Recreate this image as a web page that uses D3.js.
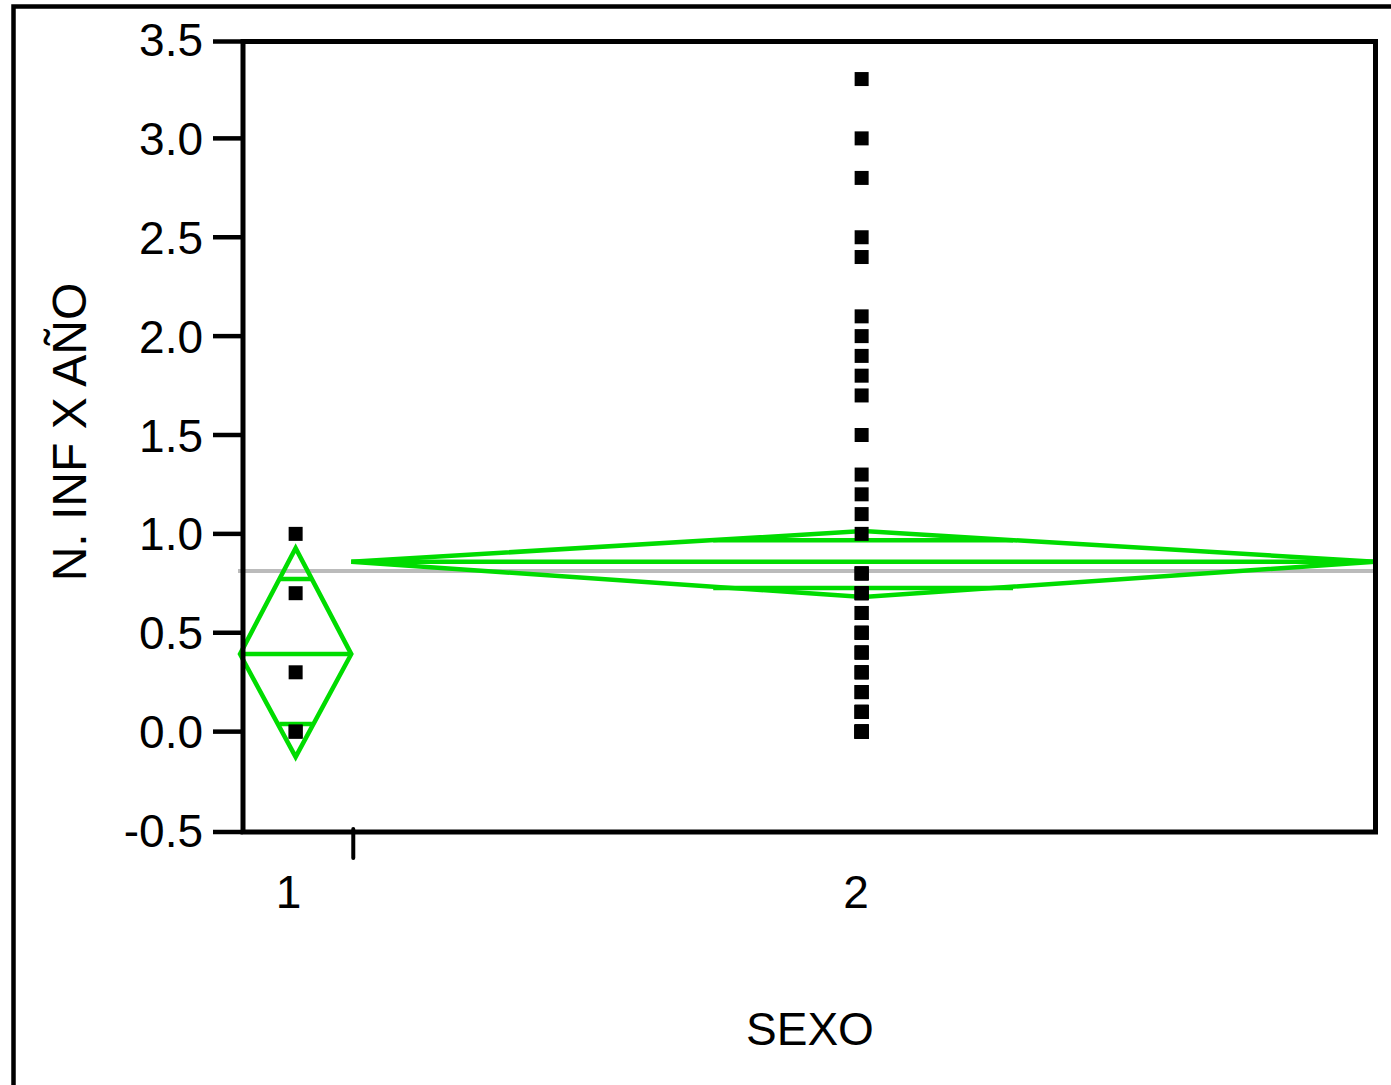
<!DOCTYPE html>
<html>
<head>
<meta charset="utf-8">
<script src="https://cdn.jsdelivr.net/npm/d3@7"></script>
<style>
  html, body { margin: 0; padding: 0; background: #fff; }
  svg text { font-family: "Liberation Sans", Arial, sans-serif; fill: #000; }
</style>
</head>
<body>
<div id="chart"></div>
<script>

// categories and raw values (N. INF X AÑO by SEXO)
var groups = ['1', '2'];
var sexo1 = [1.0, 0.7, 0.3, 0.0, 0.0];
var sexo2 = [3.3, 3.0, 2.8, 2.5, 2.4, 2.1, 2.0, 1.9, 1.8, 1.7, 1.5, 1.3, 1.2, 1.1, 1.0,
             0.8, 0.8, 0.8, 0.7, 0.7, 0.7, 0.6, 0.6, 0.5, 0.5, 0.5, 0.4, 0.4, 0.4,
             0.3, 0.3, 0.3, 0.2, 0.2, 0.2, 0.1, 0.1, 0.1, 0.1,
             0.0, 0.0, 0.0, 0.0, 0.0, 0.0, 0.0];

// means diamonds
var groupMean = [0.392, 0.859];
var ciLow = [-0.128, 0.681];
var ciHigh = [0.928, 1.014];
var ovLow = [0.038, 0.726];
var ovHigh = [0.772, 0.968];
var grandMean = 0.812;

var yTicks = [-0.5, 0.0, 0.5, 1.0, 1.5, 2.0, 2.5, 3.0, 3.5];

var width = 1391, height = 1085;
var green = '#00dc00';

var svg = d3.select('#chart').append('svg')
	.attr('width', width)
	.attr('height', height);

// outer frame (only top and left show)
svg.append('path')
	.attr('d', 'M13.5,1085V6.5H1391')
	.attr('fill', 'none')
	.attr('stroke', '#000')
	.attr('stroke-width', 4.5);

var y = d3.scaleLinear().domain([-0.5, 3.5]).range([830.5, 39.5]);

var counts = [sexo1.length, sexo2.length];
var total = d3.sum(counts);
var x = d3.scaleLinear().domain([0, total]).range([240, 1375]);

var bounds = [];
var acc = 0;
counts.forEach(function (n) {
	bounds.push([acc, acc + n]);
	acc += n;
});

// grand mean line
svg.append('line')
	.attr('x1', 238).attr('x2', 1375)
	.attr('y1', y(grandMean)).attr('y2', y(grandMean))
	.attr('stroke', '#bbbbbb')
	.attr('stroke-width', 4);

// diamonds
var g = svg.append('g');
groups.forEach(function (name, i) {
	var x0 = x(bounds[i][0]), x1 = x(bounds[i][1]);
	var xc = (x0 + x1) / 2;
	var ym = y(groupMean[i]);
	var pts = [[x0, ym], [xc, y(ciHigh[i])], [x1, ym], [xc, y(ciLow[i])]];

	g.append('path')
		.attr('d', d3.line()(pts) + 'Z')
		.attr('fill', 'none')
		.attr('stroke', green)
		.attr('stroke-width', 4.5)
		.attr('stroke-linejoin', 'miter');

	g.append('line')
		.attr('x1', x0).attr('x2', x1)
		.attr('y1', ym).attr('y2', ym)
		.attr('stroke', green).attr('stroke-width', 4.5);

	// overlap marks
	var half = (x1 - x0) * (1 - Math.SQRT1_2) / 2;
	[ovLow[i], ovHigh[i]].forEach(function (v) {
		g.append('line')
			.attr('x1', xc - half).attr('x2', xc + half)
			.attr('y1', y(v)).attr('y2', y(v))
			.attr('stroke', green).attr('stroke-width', 4.5);
	});
});

// points
var data = [sexo1, sexo2];
data.forEach(function (vals, i) {
	var xc = (x(bounds[i][0]) + x(bounds[i][1])) / 2 - i * 1.5;
	svg.append('g').selectAll('rect')
		.data(vals)
		.enter().append('rect')
		.attr('x', xc - 7)
		.attr('y', function (d) { return y(d) - 7; })
		.attr('width', 14)
		.attr('height', 14)
		.attr('fill', '#000');
});

// plot box
svg.append('rect')
	.attr('x', 243).attr('y', 41.5)
	.attr('width', 1375.5 - 243).attr('height', 832 - 41.5)
	.attr('fill', 'none')
	.attr('stroke', '#000')
	.attr('stroke-width', 5);

svg.append('line')
	.attr('x1', 213).attr('x2', 243)
	.attr('y1', 41.5).attr('y2', 41.5)
	.attr('stroke', '#000').attr('stroke-width', 4.5);
svg.append('line')
	.attr('x1', 213).attr('x2', 243)
	.attr('y1', 832).attr('y2', 832)
	.attr('stroke', '#000').attr('stroke-width', 4.5);

// y axis ticks + labels
var yAxis = svg.append('g');
yAxis.selectAll('line.tick')
	.data(yTicks.slice(1, -1))
	.enter().append('line')
	.attr('class', 'tick')
	.attr('x1', 213).attr('x2', 241)
	.attr('y1', function (d) { return y(d); })
	.attr('y2', function (d) { return y(d); })
	.attr('stroke', '#000').attr('stroke-width', 4.5);

yAxis.selectAll('text')
	.data(yTicks)
	.enter().append('text')
	.attr('x', 203)
	.attr('y', function (d) { return y(d); })
	.attr('dy', '0.36em')
	.attr('text-anchor', 'end')
	.style('font-size', '46px')
	.text(function (d) { return d3.format('.1f')(d).replace('−', '-'); });

// x axis: group divider tick and labels
bounds.slice(0, -1).forEach(function (b) {
	svg.append('line')
		.attr('x1', x(b[1]) + 2).attr('x2', x(b[1]) + 2)
		.attr('y1', 829).attr('y2', 858)
		.attr('stroke', '#000').attr('stroke-width', 4)
		.attr('stroke-linecap', 'round');
});

svg.append('g').selectAll('text')
	.data(groups)
	.enter().append('text')
	.attr('x', function (d, i) { return (x(bounds[i][0]) + x(bounds[i][1])) / 2 - 7; })
	.attr('y', 908)
	.attr('text-anchor', 'middle')
	.style('font-size', '46px')
	.text(function (d) { return d; });

// axis titles
svg.append('text')
	.attr('text-anchor', 'middle')
	.attr('transform', 'translate(86,432)rotate(-90)')
	.style('font-size', '48px')
	.text('N. INF X AÑO');

svg.append('text')
	.attr('text-anchor', 'middle')
	.attr('x', 810)
	.attr('y', 1045)
	.style('font-size', '46px')
	.text('SEXO');

</script>
</body>
</html>
